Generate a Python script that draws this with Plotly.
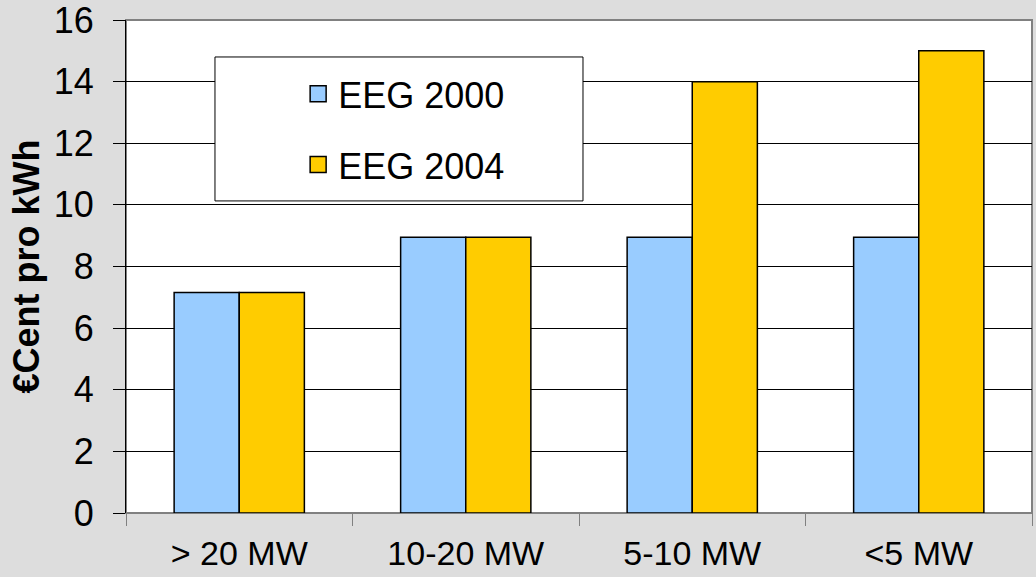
import plotly.graph_objects as go

categories = ["> 20 MW", "10-20 MW", "5-10 MW", "<5 MW"]
eeg2000 = [7.16, 8.95, 8.95, 8.95]
eeg2004 = [7.16, 8.95, 14.0, 15.0]
series_names = ["EEG 2000", "EEG 2004"]
series_colors = ["#99CCFF", "#FFCC00"]
y_ticks = [0, 2, 4, 6, 8, 10, 12, 14, 16]

fig = go.Figure()
for vals, name, col in zip([eeg2000, eeg2004], series_names, series_colors):
    fig.add_trace(go.Bar(x=categories, y=vals, name=name, showlegend=False,
                         marker=dict(color=col, line=dict(color="#000000", width=1.5))))
# legend entries with larger square swatches
for name, col, grp in zip(series_names, series_colors, ["a", "b"]):
    fig.add_trace(go.Scatter(x=[None], y=[None], mode="markers", name=name, legendgroup=grp,
                             marker=dict(symbol="square", size=16, color=col,
                                         line=dict(color="#000000", width=1.5))))

font = "Liberation Sans, Arial, sans-serif"
fig.update_layout(
    width=1036, height=577,
    margin=dict(l=126, r=4, t=20, b=64, autoexpand=False),
    paper_bgcolor="#DDDDDD", plot_bgcolor="#FFFFFF",
    barmode="group", bargap=0.425, bargroupgap=0,
    font=dict(family=font, size=36, color="#000000"),
    showlegend=True,
    legend=dict(x=0.19, y=0.911, xanchor="left", yanchor="top",
                bgcolor="rgba(0,0,0,0)", borderwidth=0,
                font=dict(size=36), traceorder="grouped", itemsizing="trace",
                tracegroupgap=21),
    xaxis=dict(tickson="boundaries", ticks="outside", ticklen=12, tickcolor="#808080",
               showline=True, linecolor="#808080", linewidth=1, mirror=False,
               tickfont=dict(size=34), showgrid=False, ticklabelstandoff=10,
               automargin=False),
    yaxis=dict(range=[0, 16], tickvals=y_ticks, ticks="outside", ticklen=12,
               tickcolor="#000000", showline=True, linecolor="#000000", linewidth=1,
               gridcolor="#000000", gridwidth=1, tickfont=dict(size=36),
               ticklabelstandoff=12, zeroline=False, automargin=False,
               ticklabeloverflow="allow",
               title=dict(text="<b>€Cent pro kWh</b>", font=dict(size=36), standoff=3)),
)
# plot-area frame
fig.add_shape(type="rect", xref="paper", yref="paper", x0=0, y0=0, x1=1, y1=1,
              line=dict(color="#808080", width=2), layer="below")
# legend box
fig.add_shape(type="rect", xref="paper", yref="paper", x0=0.0982, y0=0.633, x1=0.5044, y1=0.925,
              line=dict(color="#000000", width=1), fillcolor="#FFFFFF", layer="above")
fig.write_html("out.html", config={"displayModeBar": False},
               post_script="document.body.style.margin='0';document.body.style.background='#DDDDDD';")
